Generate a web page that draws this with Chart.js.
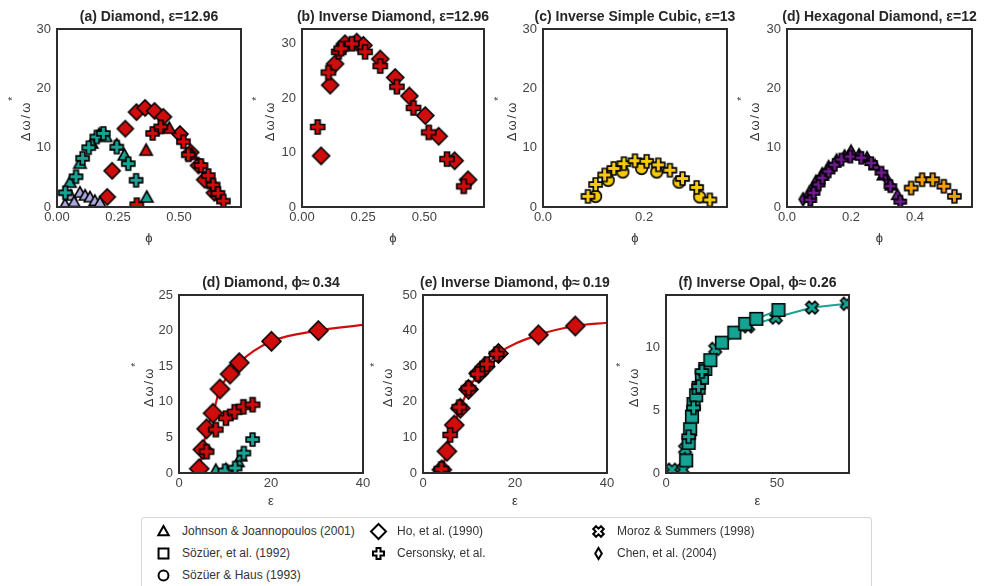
<!DOCTYPE html>
<html lang="en">
<head>
<meta charset="UTF-8">
<title>Band gap width vs fill fraction and dielectric contrast</title>
<style>
  body { margin:0; background:#fff; width:984px; height:586px; overflow:hidden; position:relative;
         font-family:"Liberation Sans", Arial, sans-serif; }
  canvas.panel { position:absolute; }
  .legend { position:absolute; left:141px; top:517px; width:729px; height:90px;
            border:1px solid #d6d6d6; border-radius:3px; }
  .lab { position:absolute; font-size:12px; color:#333; line-height:14px; white-space:nowrap; }
  canvas.sym { position:absolute; }
</style>
</head>
<body>
<div class="legend"></div>
<script src="https://cdn.jsdelivr.net/npm/chart.js"></script>
<script>
// ---- data: [x, gap %] ----
// (a) Diamond, eps = 12.96   (x = fill fraction)
const aHo      = [[0.206,1.7],[0.226,6.1],[0.28,13.2],[0.326,16.0],[0.361,16.7],[0.40,16.2],[0.436,15.2],[0.504,12.3],[0.548,9.2],[0.58,7.0],[0.605,4.6],[0.645,2.4]];
const aCersRed = [[0.327,0.4],[0.392,12.4],[0.425,13.5],[0.518,11.0],[0.538,8.8],[0.59,7.0],[0.62,5.3],[0.64,3.7],[0.66,2.3],[0.682,1.0]];
const aJJRed   = [[0.365,9.5],[0.46,13.2],[0.552,8.8],[0.64,3.9],[0.655,2.6]];
const aJJTeal  = [[0.053,4.1],[0.094,7.3],[0.142,10.7],[0.173,12.2],[0.2,11.8],[0.245,10.4],[0.276,8.7],[0.368,1.6]];
const aCersTeal= [[0.034,2.4],[0.078,5.1],[0.105,8.2],[0.13,10.0],[0.163,11.8],[0.19,12.4],[0.245,10.1],[0.292,7.3],[0.324,4.5]];
const aJJLav   = [[0.033,0.4],[0.056,1.9],[0.07,0.8],[0.094,2.4],[0.115,1.9],[0.135,1.6],[0.155,1.0],[0.176,0.7]];
// (b) Inverse Diamond, eps = 12.96
const bHo   = [[0.078,9.4],[0.115,22.4],[0.135,26.3],[0.176,30.0],[0.224,30.3],[0.251,29.7],[0.32,27.2],[0.381,23.8],[0.439,20.4],[0.504,16.8],[0.559,13.0],[0.624,8.5],[0.679,5.0]];
const bCers = [[0.064,14.7],[0.108,24.7],[0.15,28.5],[0.16,29.1],[0.204,30.0],[0.258,28.5],[0.32,25.9],[0.388,22.1],[0.456,18.2],[0.518,13.7],[0.593,8.8],[0.661,3.8]];
// (c) Inverse Simple Cubic, eps = 13
const cSH   = [[0.104,1.8],[0.129,4.5],[0.158,5.9],[0.195,6.5],[0.225,5.9],[0.269,4.2],[0.31,1.7]];
const cCers = [[0.089,1.8],[0.104,3.8],[0.122,5.4],[0.14,6.5],[0.16,7.3],[0.182,7.8],[0.205,7.7],[0.228,7.1],[0.251,6.2],[0.276,4.8],[0.304,3.3],[0.33,1.2]];
// (d) Hexagonal Diamond, eps = 12
const hJJ     = [[0.07,2.5],[0.09,4.3],[0.11,5.6],[0.13,6.8],[0.155,7.9],[0.18,8.6],[0.2,9.4],[0.225,8.8],[0.25,8.3],[0.275,7.0],[0.3,5.3],[0.325,3.6],[0.345,2.0]];
const hChen   = [[0.05,1.3],[0.31,4.8]];
const hCers   = [[0.073,1.2],[0.083,2.4],[0.099,3.8],[0.111,4.9],[0.13,6.0],[0.149,7.1],[0.17,8.0],[0.198,8.5],[0.232,8.3],[0.263,7.4],[0.295,5.8],[0.323,3.5],[0.354,0.9]];
const hCers2  = [[0.388,3.2],[0.422,4.6],[0.455,4.6],[0.49,3.5],[0.523,1.8]];
// (d) Diamond, phi ~ 0.34   (x = eps)
const dHo      = [[4.4,0.6],[5.2,3.3],[6.0,6.2],[7.4,8.4],[8.9,11.8],[11.1,13.9],[13.1,15.5],[20.1,18.5],[30.3,20.0]];
const dHoFit   = [[4.4,0.6],[5.2,3.3],[6.0,6.2],[7.4,8.4],[8.9,11.8],[11.1,13.9],[13.1,15.5],[20.1,18.5],[30.3,20.0],[40,20.8]];
const dCersRed = [[6.0,3.0],[8.0,6.1],[10.2,7.7],[12.1,8.6],[14.0,9.3],[16.0,9.6]];
const dJJTeal  = [[8.0,0.4],[10.2,0.5],[12.9,1.5],[13.5,2.3]];
const dCersTeal= [[10.0,0.3],[12.2,0.7],[14.1,2.8],[16.0,4.7]];
// (e) Inverse Diamond, phi ~ 0.19
const eHo    = [[4.1,0.9],[5.2,6.1],[6.8,13.5],[8.1,18.2],[9.9,23.5],[12.1,28.0],[13.5,29.9],[16.4,33.6],[25.1,38.8],[33.1,41.3]];
const eHoFit = [[4.1,0.9],[5.2,6.1],[6.8,13.5],[8.1,18.2],[9.9,23.5],[12.1,28.0],[13.5,29.9],[16.4,33.6],[25.1,38.8],[33.1,41.3],[40,42.2]];
const eCers  = [[4.0,1.1],[5.9,10.7],[7.9,18.5],[9.9,23.8],[11.9,27.8],[13.9,30.6],[16.0,33.4]];
// (f) Inverse Opal, phi ~ 0.26
const fSoz   = [[9.1,1.0],[10.2,2.4],[10.9,3.5],[11.7,4.5],[12.4,5.5],[13.6,6.2],[14.7,6.8],[16.2,7.6],[17.7,8.3],[20.0,9.0],[25.2,10.4],[30.8,11.2],[35.7,11.9],[40.7,12.3],[50.7,13.0]];
const fMoroz = [[2.7,0.26],[7.7,0.26],[8.6,1.9],[22.2,9.9],[37.0,11.7],[49.5,12.4],[65.8,13.2],[81.5,13.5]];
const fCers  = [[10.2,2.9],[12.4,5.2],[14.7,6.9],[16.2,8.1]];

// tick values and labels
const phiTicksA = [0, 0.25, 0.5],  phiLabelsA = ['0.00', '0.25', '0.50'];
const phiTicksC = [0, 0.2],        phiLabelsC = ['0.0', '0.2'];
const phiTicksH = [0, 0.2, 0.4],   phiLabelsH = ['0.0', '0.2', '0.4'];
const gapTicksTop = [0, 10, 20, 30];
const epsTicks40 = [0, 20, 40], epsTicksF = [0, 50];
const gapTicksD = [0, 5, 10, 15, 20, 25], gapTicksE = [0, 10, 20, 30, 40, 50], gapTicksF = [0, 5, 10];

const RED = '#cf0d0d', TEAL = '#17a394', LAV = '#aaa8dc', GOLD = '#f6cb06', PURPLE = '#701b90', ORANGE = '#f59d00';
const FONT = '"Liberation Sans", Arial, sans-serif';

// filled marker glyphs with black outline
function marker(shape, fill, size, lw) {
  lw = lw || 1.6;
  const s = Math.ceil(size + 4), m = s / 2, r = size / 2;
  const c = document.createElement('canvas');
  c.width = s; c.height = s;
  const g = c.getContext('2d');
  g.beginPath();
  if (shape === 'diamond') {
    g.moveTo(m, m - r); g.lineTo(m + r, m); g.lineTo(m, m + r); g.lineTo(m - r, m); g.closePath();
  } else if (shape === 'thin') {
    g.moveTo(m, m - r); g.lineTo(m + r * 0.6, m); g.lineTo(m, m + r); g.lineTo(m - r * 0.6, m); g.closePath();
  } else if (shape === 'tri') {
    g.moveTo(m, m - r); g.lineTo(m + r * 0.95, m + r * 0.7); g.lineTo(m - r * 0.95, m + r * 0.7); g.closePath();
  } else if (shape === 'square') {
    g.rect(m - r * 0.9, m - r * 0.9, r * 1.8, r * 1.8);
  } else if (shape === 'circle') {
    g.arc(m, m, r * 0.9, 0, Math.PI * 2);
  } else { // plus or x
    g.translate(m, m);
    if (shape === 'x') g.rotate(Math.PI / 4);
    const a = r * 0.36;
    const pts = [[-a,-r],[a,-r],[a,-a],[r,-a],[r,a],[a,a],[a,r],[-a,r],[-a,a],[-r,a],[-r,-a],[-a,-a]];
    pts.forEach((p, i) => i ? g.lineTo(p[0], p[1]) : g.moveTo(p[0], p[1]));
    g.closePath();
  }
  g.fillStyle = fill; g.fill();
  g.lineWidth = lw; g.strokeStyle = '#000'; g.lineJoin = 'miter'; g.stroke();
  return c;
}

function pts(arr) { return arr.map(p => ({x: p[0], y: p[1]})); }
function series(arr, shape, color, size, line) {
  return { data: pts(arr), pointStyle: marker(shape, color, size), showLine: !!line,
           borderColor: color, backgroundColor: color, borderWidth: 2, clip: 0 };
}
function curve(arr, color) {
  return { data: pts(arr), pointRadius: 0, showLine: true, borderColor: color, borderWidth: 2.2,
           cubicInterpolationMode: 'monotone', clip: 0 };
}

const framePlugin = {
  id: 'frame',
  afterDatasetsDraw(chart) {
    const a = chart.chartArea, g = chart.ctx;
    g.save(); g.strokeStyle = '#2c2c2c'; g.lineWidth = 2;
    g.strokeRect(a.left, a.top, a.right - a.left, a.bottom - a.top);
    g.restore();
  },
  afterDraw(chart, args, o) {
    const a = chart.chartArea, g = chart.ctx, cx = (a.left + a.right) / 2, cy = (a.top + a.bottom) / 2;
    g.save();
    g.fillStyle = '#262626'; g.textAlign = 'center'; g.textBaseline = 'middle';
    g.font = 'bold 14px ' + FONT;
    g.fillText(o.title, cx, a.top - 12);
    g.fillStyle = '#333'; g.font = '13px ' + FONT;
    g.fillText(o.xlab, cx, a.bottom + o.xdy);
    // rotated y label, spaced like mathtext, with superscript star
    const chars = ['Δ', 'ω', '/', 'ω'], gap = 2;
    let w1 = 0; chars.forEach(ch => w1 += g.measureText(ch).width + gap);
    g.translate(a.left + o.ydx, cy); g.rotate(-Math.PI / 2);
    g.textAlign = 'left';
    let x = -(w1 + 6) / 2;
    chars.forEach(ch => { g.fillText(ch, x, 0); x += g.measureText(ch).width + gap; });
    g.font = '10px ' + FONT;
    g.fillText('*', x, -13);
    g.restore();
  }
};

const PADL = 62, PADT = 34, PADR = 14, PADB = 44;
function panel(p) {
  const c = document.createElement('canvas');
  c.className = 'panel';
  const w = (p.r - p.l) + PADL + PADR, h = (p.b - p.t) + PADT + PADB;
  c.width = w; c.height = h;
  c.style.left = (p.l - PADL) + 'px'; c.style.top = (p.t - PADT) + 'px';
  c.style.width = w + 'px'; c.style.height = h + 'px';
  document.body.appendChild(c);
  const tickFont = { family: FONT, size: 13 };
  new Chart(c, {
    type: 'scatter',
    data: { datasets: p.sets },
    options: {
      responsive: false, animation: false, events: [],
      layout: { padding: { top: PADT, right: PADR, left: 0, bottom: 0 } },
      plugins: { legend: { display: false }, tooltip: { enabled: false },
                 frame: { title: p.title, xlab: p.xlab, xdy: p.xdy, ydx: p.ydx } },
      scales: {
        x: { type: 'linear', min: 0, max: p.xmax,
             grid: { display: false, drawTicks: false }, border: { display: false },
             ticks: { color: '#444', font: tickFont, padding: 3, maxRotation: 0,
                      callback: v => p.xl ? p.xl[p.xt.indexOf(v)] : String(v) },
             afterBuildTicks: s => { s.ticks = p.xt.map(v => ({ value: v })); },
             afterFit: s => { s.height = PADB; } },
        y: { type: 'linear', min: 0, max: p.ymax,
             grid: { display: false, drawTicks: false }, border: { display: false },
             ticks: { color: '#444', font: tickFont, padding: 6, callback: v => String(v) },
             afterBuildTicks: s => { s.ticks = p.yt.map(v => ({ value: v })); },
             afterFit: s => { s.width = PADL; } }
      }
    },
    plugins: [framePlugin]
  });
}

// top row: gap vs fill fraction
panel({ l: 57, r: 241, t: 29, b: 207, xmax: 0.754, ymax: 30, xt: phiTicksA, xl: phiLabelsA, yt: gapTicksTop,
  title: '(a) Diamond, ε=12.96', xlab: 'ϕ', xdy: 31, ydx: -31,
  sets: [ series(aCersTeal, 'plus', TEAL, 13), series(aJJTeal, 'tri', TEAL, 13),
          series(aCersRed, 'plus', RED, 13), series(aJJRed, 'tri', RED, 13),
          series(aJJLav, 'tri', LAV, 12), series(aHo, 'diamond', RED, 16) ] });
panel({ l: 302, r: 484, t: 29, b: 207, xmax: 0.744, ymax: 32.7, xt: phiTicksA, xl: phiLabelsA, yt: gapTicksTop,
  title: '(b) Inverse Diamond, ε=12.96', xlab: 'ϕ', xdy: 31, ydx: -32,
  sets: [ series(bCers, 'plus', RED, 14), series(bHo, 'diamond', RED, 17) ] });
panel({ l: 543, r: 727, t: 29, b: 207, xmax: 0.364, ymax: 30, xt: phiTicksC, xl: phiLabelsC, yt: gapTicksTop,
  title: '(c) Inverse Simple Cubic, ε=13', xlab: 'ϕ', xdy: 31, ydx: -31,
  sets: [ series(cCers, 'plus', GOLD, 13), series(cSH, 'circle', GOLD, 13) ] });
panel({ l: 787, r: 972, t: 29, b: 207, xmax: 0.578, ymax: 30, xt: phiTicksH, xl: phiLabelsH, yt: gapTicksTop,
  title: '(d) Hexagonal Diamond, ε=12', xlab: 'ϕ', xdy: 31, ydx: -32,
  sets: [ series(hCers, 'plus', PURPLE, 12), series(hCers2, 'plus', ORANGE, 13),
          series(hJJ, 'tri', PURPLE, 12), series(hChen, 'thin', PURPLE, 13) ] });

// bottom row: gap vs dielectric contrast
panel({ l: 179, r: 363, t: 295, b: 473, xmax: 40, ymax: 25, xt: epsTicks40, yt: gapTicksD,
  title: '(d) Diamond, ϕ≈\u20090.34', xlab: 'ε', xdy: 28, ydx: -30,
  sets: [ series(dCersTeal, 'plus', TEAL, 13), series(dJJTeal, 'tri', TEAL, 12),
          series(dCersRed, 'plus', RED, 14), series(dHo, 'diamond', RED, 19), curve(dHoFit, RED) ] });
panel({ l: 423, r: 607, t: 295, b: 473, xmax: 40, ymax: 50, xt: epsTicks40, yt: gapTicksE,
  title: '(e) Inverse Diamond, ϕ≈\u20090.19', xlab: 'ε', xdy: 28, ydx: -35,
  sets: [ series(eCers, 'plus', RED, 14), series(eHo, 'diamond', RED, 19), curve(eHoFit, RED) ] });
panel({ l: 666, r: 849, t: 295, b: 473, xmax: 82.5, ymax: 14.2, xt: epsTicksF, yt: gapTicksF,
  title: '(f) Inverse Opal, ϕ≈\u20090.26', xlab: 'ε', xdy: 28, ydx: -32,
  sets: [ series(fCers, 'plus', TEAL, 13), series(fSoz, 'square', TEAL, 14, true),
          series(fMoroz, 'x', TEAL, 13, true) ] });

// legend (open symbols)
const legendItems = [
  ['tri', 'Johnson & Joannopoulos (2001)', 163, 531], ['square', 'Sözüer, et al. (1992)', 163, 553],
  ['circle', 'Sözüer & Haus (1993)', 163, 575], ['diamond', 'Ho, et al. (1990)', 378, 531],
  ['plus', 'Cersonsky, et al.', 378, 553], ['x', 'Moroz & Summers (1998)', 598, 531],
  ['thin', 'Chen, et al. (2004)', 598, 553]
];
legendItems.forEach(([shape, text, x, y]) => {
  const s = marker(shape, '#fff', shape === 'diamond' ? 15 : 11, 2);
  s.className = 'sym';
  s.style.left = (x - s.width / 2) + 'px'; s.style.top = (y - s.height / 2) + 'px';
  document.body.appendChild(s);
  const t = document.createElement('div');
  t.className = 'lab'; t.textContent = text;
  t.style.left = (x + 19) + 'px'; t.style.top = (y - 7) + 'px';
  document.body.appendChild(t);
});
</script>
</body>
</html>
